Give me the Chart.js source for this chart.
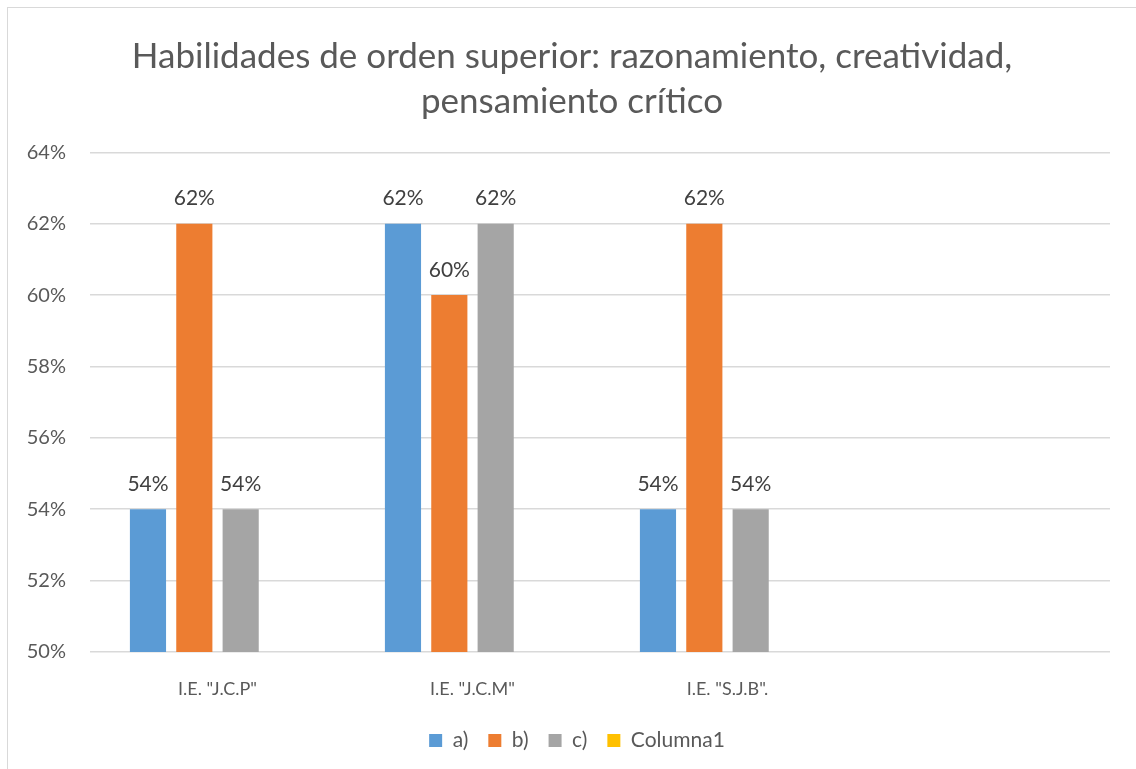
<!DOCTYPE html>
<html>
<head>
<meta charset="utf-8">
<script src="https://cdn.jsdelivr.net/npm/chart.js@4.4.1/dist/chart.umd.min.js"></script>
<style>
  body { margin: 0; background: #fff; }
  #wrap { position: relative; width: 1136px; height: 769px; overflow: hidden; }
  #marco { position: absolute; left: 7px; top: 7px; width: 1300px; height: 900px; border: 1.5px solid #d9d9d9; }
  #myChart { position: absolute; left: 0; top: 0; }
</style>
</head>
<body>
<div id="wrap">
  <div id="marco"></div>
  <canvas id="myChart" width="1136" height="769"></canvas>
</div>
<script>
// Datos del grafico
const categorias = ['I.E. "J.C.P"', 'I.E. "J.C.M"', 'I.E. "S.J.B".', ''];
const serieA = [54, 62, 54, null];
const serieB = [62, 60, 62, null];
const serieC = [54, 62, 54, null];
const columna1 = [null, null, null, null];
const nombresSeries = ['a)', 'b)', 'c)', 'Columna1'];
const colores = ['#5b9bd5', '#ed7d31', '#a5a5a5', '#ffc000'];
const titulo = ['Habilidades de orden superior: razonamiento, creatividad,', 'pensamiento crítico'];

const fuente = 'Lato, "Open Sans", sans-serif';

// Plugin para escribir los valores encima de las barras
const etiquetas = {
    id: 'etiquetas',
    afterLayout(chart) {
        // titulo y leyenda van centrados en todo el grafico, como en Excel
        chart.titleBlock.left += 17;
        chart.titleBlock.right += 17;
        chart.legend.left += 22;
        chart.legend.right += 22;
    },
    afterDatasetsDraw(chart) {
        const ctx = chart.ctx;
        ctx.save();
        ctx.fillStyle = '#404040';
        ctx.font = '21px ' + fuente;
        ctx.textAlign = 'center';
        ctx.textBaseline = 'middle';
        chart.data.datasets.forEach(function(ds, i) {
            const meta = chart.getDatasetMeta(i);
            meta.data.forEach(function(bar, j) {
                const v = ds.data[j];
                if (v === null || v === undefined) return;
                ctx.fillText(v + '%', bar.x, bar.y - 25);
            });
        });
        ctx.restore();
    }
};

const datos = [serieA, serieB, serieC, columna1];

const ctx = document.getElementById('myChart').getContext('2d');
const myChart = new Chart(ctx, {
    type: 'bar',
    data: {
        labels: categorias,
        datasets: datos.map(function(d, i) {
            return {
                label: nombresSeries[i],
                data: d,
                backgroundColor: colores[i],
                borderWidth: 0,
                categoryPercentage: 0.727,
                barPercentage: 0.78
            };
        })
    },
    options: {
        responsive: false,
        animation: false,
        layout: { padding: { left: 0, right: 26, top: 0, bottom: 8 } },
        plugins: {
            title: {
                display: true,
                text: titulo,
                color: '#595959',
                font: { family: fuente, size: 35, weight: 'normal', lineHeight: 1.29 },
                padding: { top: 34, bottom: 28 }
            },
            legend: {
                position: 'bottom',
                labels: {
                    color: '#595959',
                    font: { family: fuente, size: 21 },
                    boxWidth: 13,
                    boxHeight: 13,
                    padding: 20
                }
            },
            tooltip: { enabled: false }
        },
        scales: {
            x: {
                grid: { display: false },
                border: { display: false },
                ticks: { color: '#595959', font: { family: fuente, size: 18 }, padding: 18 },
                afterFit: function(s) { s.height = 58; }
            },
            y: {
                min: 50,
                max: 64,
                grid: { color: '#d9d9d9', lineWidth: 1.5, drawTicks: false },
                border: { display: false },
                ticks: {
                    stepSize: 2,
                    color: '#595959',
                    font: { family: fuente, size: 20 },
                    padding: 24,
                    callback: function(v) { return v + '%'; }
                },
                afterFit: function(s) { s.width = 90; }
            }
        }
    },
    plugins: [etiquetas]
});
</script>
</body>
</html>
